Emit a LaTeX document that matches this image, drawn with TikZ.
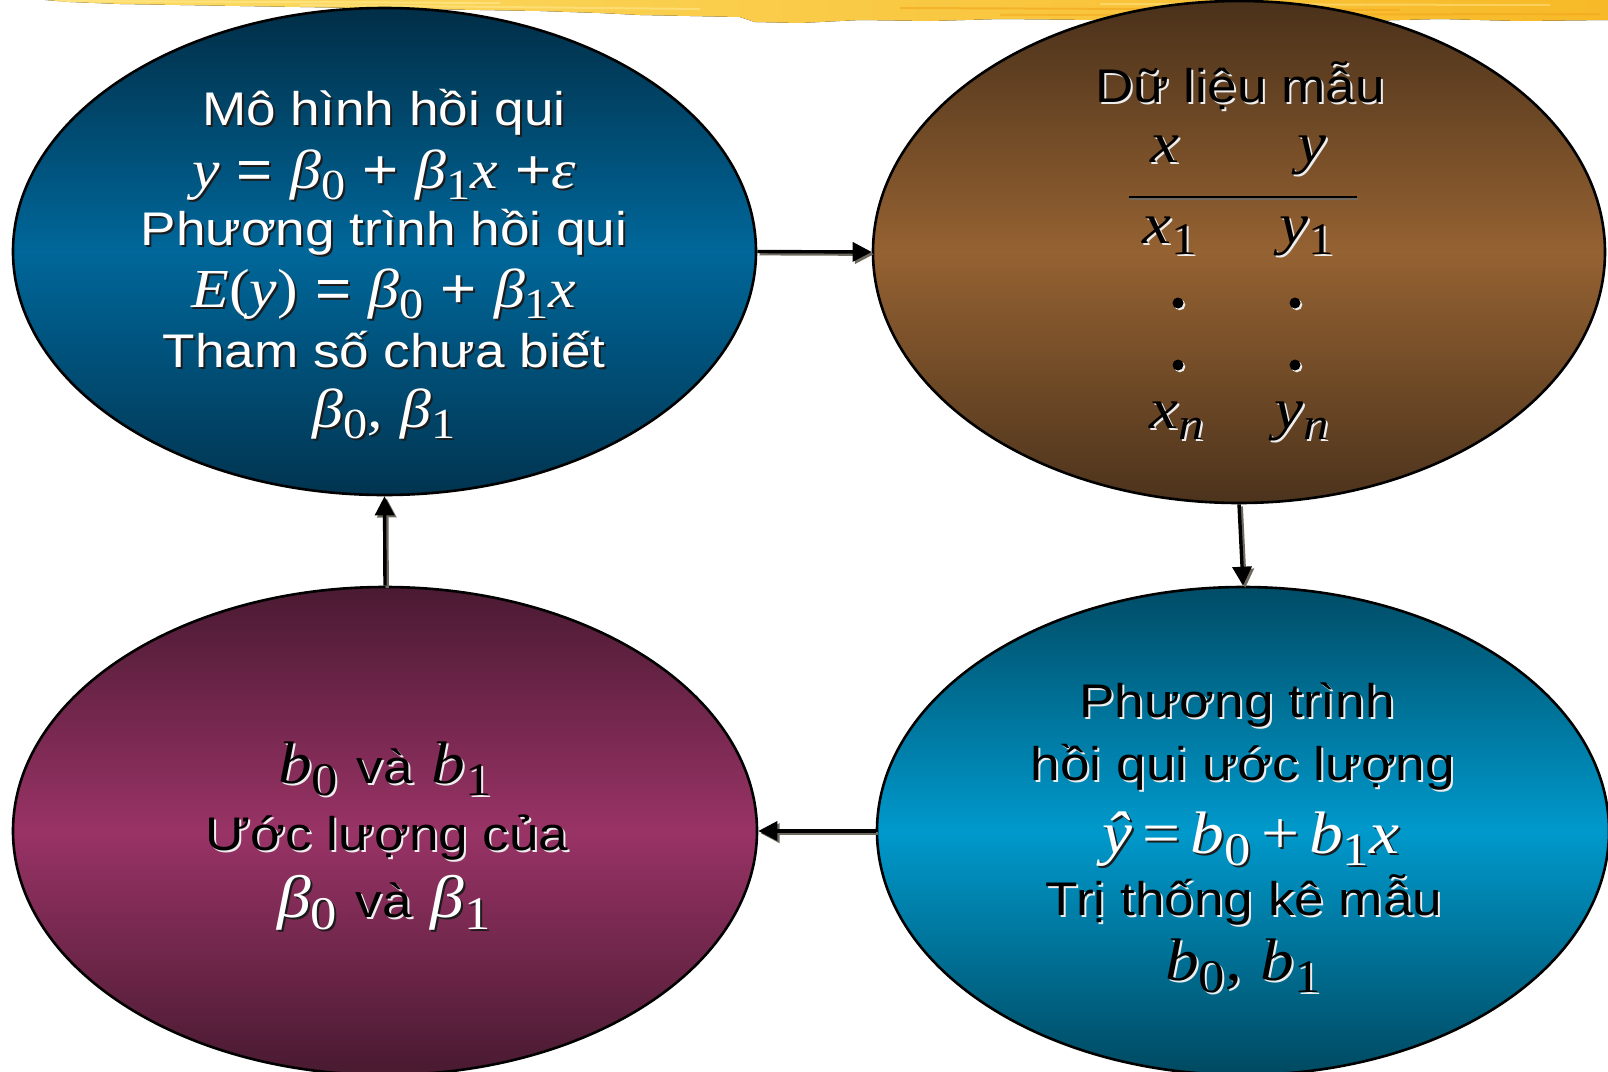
\documentclass[tikz,border=0pt]{standalone}
\usepackage{fontspec}
\usepackage{graphicx}
\setmainfont{Liberation Sans}[FakeStretch=1.125]
\newfontfamily\mathf{Liberation Serif}[FakeStretch=1.125]
\usetikzlibrary{shapes.geometric,arrows.meta}
\definecolor{tlTop}{HTML}{012E47}
\definecolor{tlMid}{HTML}{00679A}
\definecolor{tlBot}{HTML}{013450}
\definecolor{trTop}{HTML}{4A311A}
\definecolor{trMid}{HTML}{956232}
\definecolor{trBot}{HTML}{4C331C}
\definecolor{blTop}{HTML}{4A1A32}
\definecolor{blMid}{HTML}{993366}
\definecolor{blBot}{HTML}{481A30}
\definecolor{brTop}{HTML}{004C66}
\definecolor{brMid}{HTML}{0099CC}
\definecolor{brBot}{HTML}{004961}
\definecolor{shdark}{HTML}{1C1C1C}
\definecolor{shlight}{HTML}{EDEDED}
\definecolor{arrowgray}{HTML}{6E6A60}
\definecolor{brushL}{HTML}{FCDC66}
\definecolor{brushR}{HTML}{F7B927}
\definecolor{brushHi}{HTML}{FFE78A}
\definecolor{brushLo}{HTML}{F2A51C}
\newcommand{\shw}[1]{\rlap{\kern1pt\raisebox{-1pt}{\color{shdark}#1}}{\color{white}#1}}
\newcommand{\shb}[1]{\rlap{\kern1pt\raisebox{-1pt}{\color{shlight}#1}}{\color{black}#1}}
\newcommand{\mi}[1]{{\mathf\itshape #1}}
\newcommand{\sbs}[1]{\raisebox{-0.2em}{\scalebox{0.78}{\mathf #1}}}
\newcommand{\sbi}[1]{\raisebox{-0.2em}{\scalebox{0.78}{\mathf\itshape #1}}}
\newcommand{\tx}[1]{{\fontsize{23.6pt}{28pt}\selectfont #1}}
\begin{document}
\begin{tikzpicture}[x=0.5pt,y=-0.5pt,
  blob/.style={ellipse, draw=black, line width=1.3pt, inner sep=0pt},
  txt/.style={inner sep=0pt, anchor=base, font=\fontsize{23.6pt}{28pt}\selectfont},
  mth/.style={inner sep=0pt, anchor=base, font=\fontsize{#1}{#1}\selectfont},
  flow/.style={line width=1.7pt, -{Triangle[length=9.5pt,width=9.5pt]}},
  flowsh/.style={flow, draw=arrowgray, fill=arrowgray, transform canvas={shift={(1.1pt,-1.1pt)}}}]
\useasboundingbox (0,0) rectangle (1608,1072);
% brush stroke
\fill[left color=brushL, right color=brushR]
  (45,0) -- (1608,0) -- (1608,20) -- (1520,21) -- (1440,19) -- (1360,21) -- (1300,20)
  -- (1200,21) -- (1100,20) -- (1000,19) -- (930,21) -- (860,20) -- (800,23) -- (755,22)
  -- (740,17) -- (690,16) -- (640,15) -- (600,13) -- (540,11) -- (480,10) -- (420,9)
  -- (360,8) -- (300,7) -- (240,6) -- (180,5) -- (120,4) -- (70,2) -- cycle;
\draw[brushHi, line width=1pt, opacity=0.7] (60,1) -- (500,3);
\draw[brushHi, line width=1pt, opacity=0.6] (300,5) -- (700,9);
\draw[brushLo, line width=1pt, opacity=0.6] (900,8) -- (1400,10);
\draw[brushLo, line width=1pt, opacity=0.5] (1000,15) -- (1600,14);
\draw[brushHi, line width=1pt, opacity=0.5] (1100,4) -- (1550,5);
% ellipses
\node[blob, minimum width=371.5pt, minimum height=243.5pt,
  top color=tlTop, bottom color=tlBot, middle color=tlMid] (tl) at (384.5,251.5) {};
\node[blob, minimum width=366pt, minimum height=251pt,
  top color=trTop, bottom color=trBot, middle color=trMid] (tr) at (1239,252) {};
\node[blob, minimum width=372pt, minimum height=244pt,
  top color=blTop, bottom color=blBot, middle color=blMid] (bl) at (385,831) {};
\node[blob, minimum width=366pt, minimum height=244pt,
  top color=brTop, bottom color=brBot, middle color=brMid] (br) at (1243,831) {};
% connectors
\draw[flowsh] (tl.east) -- (tr.west);
\draw[flow] (tl.east) -- (tr.west);
\draw[flowsh] (tr.south) -- (br.north);
\draw[flow] (tr.south) -- (br.north);
\draw[flowsh] (br.west) -- (bl.east);
\draw[flow] (br.west) -- (bl.east);
\draw[flowsh] (bl.north) -- (tl.south);
\draw[flow] (bl.north) -- (tl.south);
% top-left text
\node[txt] (tl1) at (384,125) {\shw{Mô hình hồi qui}};
\node[mth=27.5pt] (tl2) at (384,188) {\shw{\mi{y} = \mi{β}\sbs{0} + \mi{β}\sbs{1}\mi{x} +\mi{ε}}};
\node[txt] (tl3) at (384,245) {\shw{Phương trình hồi qui}};
\node[mth=27.5pt] (tl4) at (384,307) {\shw{\mi{E}{\mathf(}\mi{y}{\mathf)} = \mi{β}\sbs{0} + \mi{β}\sbs{1}\mi{x}}};
\node[txt] (tl5) at (384,367) {\shw{Tham số chưa biết}};
\node[mth=27.5pt] (tl6) at (384,427) {\shw{\mi{β}\sbs{0}\mi{,} \mi{β}\sbs{1}}};
% top-right text
\node[txt] (tr1) at (1240,102) {\shb{Dữ liệu mẫu}};
\node[mth=29pt] (trx) at (1165,162) {\shb{\mi{x}}};
\node[mth=29pt] (try) at (1312,162) {\shb{\mi{y}}};
\coordinate (ruleL) at (1129,197);
\coordinate (ruleR) at (1357,197);
\draw[arrowgray, line width=1.4pt, transform canvas={shift={(0.6pt,-1pt)}}] (ruleL) -- (ruleR);
\draw[black, line width=1.4pt] (ruleL) -- (ruleR);
\node[mth=29pt] (trx1) at (1170,243) {\shb{\mi{x}\sbs{1}}};
\node[mth=29pt] (try1) at (1307,243) {\shb{\mi{y}\sbs{1}}};
\foreach \px/\py in {1178/303,1295/303,1178/365,1295/365}{
  \fill[shlight] (\px+1.8,\py+1.8) circle [radius=5.5];
  \fill[black] (\px,\py) circle [radius=5.5];
}
\node[mth=29pt] (trxn) at (1177,428) {\shb{\mi{x}\sbi{n}}};
\node[mth=29pt] (tryn) at (1302,428) {\shb{\mi{y}\sbi{n}}};
% bottom-right text
\node[txt] (br1) at (1237,717) {\shb{Phương trình}};
\node[txt] (br2) at (1243,780) {\shb{hồi qui ước lượng}};
\node[mth=30pt] (br3) at (1251,853) {\shw{\mi{ŷ}\,{\mathf =}\,\mi{b}\sbs{0}\,{\mathf +}\,\mi{b}\sbs{1}\mi{x}}};
\node[txt] (br4) at (1244,915) {\shb{Trị thống kê mẫu}};
\node[mth=30pt] (br5) at (1243,980) {\shb{\mi{b}\sbs{0}\mi{,} \mi{b}\sbs{1}}};
% bottom-left text
\node[mth=30pt] (bl1) at (385,783) {\shb{\mi{b}\sbs{0}} \shb{\tx{và}} \shb{\mi{b}\sbs{1}}};
\node[txt] (bl2) at (387,850) {\shb{Ước lượng của}};
\node[mth=30pt] (bl3) at (384,917) {\shw{\mi{β}\sbs{0}} \shb{\tx{và}} \shw{\mi{β}\sbs{1}}};
\end{tikzpicture}
\end{document}
